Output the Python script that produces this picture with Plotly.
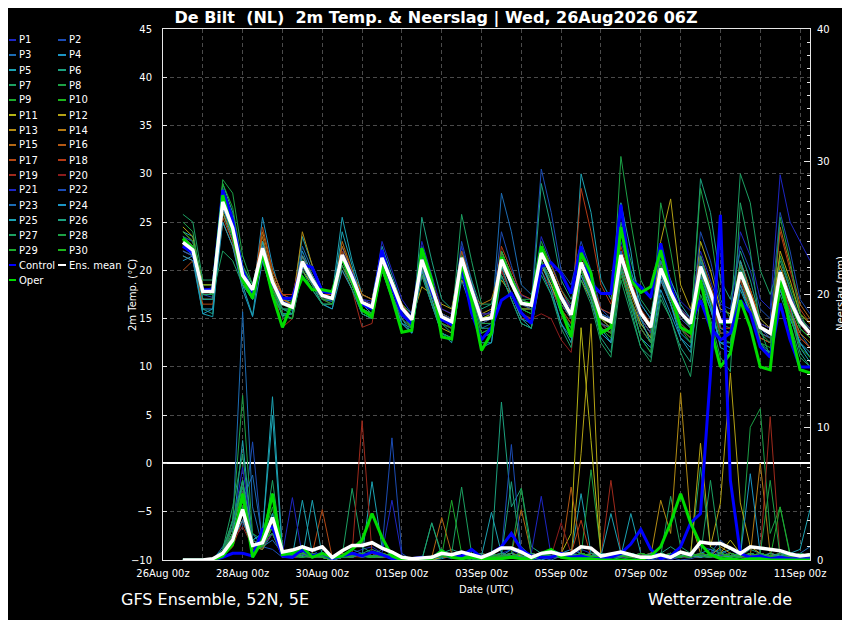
import pandas as pd
import plotly.graph_objects as go

# ── time axis: GFS ensemble 06Z run, 6-hourly steps ──────────────────────────
times = pd.date_range("2026-08-26 12:00", periods=64, freq="6h")
tick_dates = pd.date_range("2026-08-26", "2026-09-11", freq="2D")
tick_labels = ["26Aug 00z", "28Aug 00z", "30Aug 00z", "01Sep 00z", "03Sep 00z",
               "05Sep 00z", "07Sep 00z", "09Sep 00z", "11Sep 00z"]

# ── 2m temperature (°C) ──────────────────────────────────────────────────────
t_p1 = [23.5, 22.5, 18.0, 18.2, 28.0, 25.0, 19.8, 17.5, 23.0, 19.2, 16.8, 16.5, 21.5, 19.5, 17.8, 17.4,
        22.4, 19.8, 17.0, 16.8, 21.8, 19.0, 16.4, 15.3, 22.0, 18.6, 15.5, 15.0, 22.5, 18.8, 15.2, 15.8,
        22.0, 19.5, 17.4, 17.0, 23.5, 20.8, 18.0, 16.2, 22.0, 19.0, 16.0, 15.5, 23.0, 19.5, 16.5, 15.0,
        21.5, 18.8, 16.8, 15.8, 22.0, 19.0, 15.8, 15.5, 24.0, 21.5, 17.0, 16.0, 29.9, 25.0, 23.0, 21.0]
t_p2 = [22.0, 21.5, 17.5, 17.2, 27.5, 24.0, 19.0, 17.0, 22.0, 18.5, 16.0, 15.8, 21.0, 19.2, 17.0, 16.8,
        22.0, 19.5, 16.5, 16.0, 22.0, 19.0, 15.8, 14.5, 22.5, 19.0, 15.0, 14.5, 23.0, 19.0, 15.0, 15.2,
        24.0, 20.5, 17.0, 16.5, 30.5, 26.0, 20.0, 18.5, 23.0, 20.0, 16.0, 15.0, 22.0, 18.0, 15.0, 13.5,
        19.5, 17.0, 14.5, 13.5, 20.0, 17.5, 14.0, 13.5, 21.0, 18.0, 14.0, 13.0, 21.5, 18.0, 14.5, 13.0]
t_p3 = [22.5, 22.0, 17.0, 17.0, 26.5, 24.0, 19.5, 18.2, 22.5, 19.0, 16.5, 16.5, 20.5, 18.5, 17.0, 16.8,
        21.0, 19.0, 16.5, 16.0, 20.5, 18.0, 15.5, 14.2, 20.0, 17.5, 14.5, 14.0, 20.5, 17.5, 14.0, 14.5,
        28.0, 24.0, 18.5, 17.5, 22.0, 20.0, 17.0, 15.0, 20.0, 18.0, 14.5, 13.5, 21.0, 18.0, 14.5, 13.0,
        19.0, 16.5, 14.0, 13.0, 19.5, 17.0, 13.5, 13.5, 19.0, 16.0, 13.0, 12.5, 18.5, 16.0, 13.5, 12.0]
t_p4 = [21.0, 21.5, 16.0, 16.0, 26.0, 23.0, 18.5, 17.0, 25.5, 20.5, 17.0, 16.8, 22.0, 19.5, 17.5, 17.5,
        21.5, 19.0, 16.0, 15.5, 20.0, 17.5, 14.5, 14.0, 19.5, 16.5, 13.5, 13.0, 19.0, 16.0, 13.0, 13.5,
        20.0, 17.5, 15.5, 15.0, 20.5, 18.5, 15.5, 14.0, 19.5, 17.0, 13.5, 12.5, 20.0, 16.5, 13.0, 12.0,
        18.0, 15.5, 13.0, 12.0, 18.5, 16.0, 12.5, 12.5, 18.5, 15.5, 12.0, 11.5, 18.0, 15.0, 12.5, 11.0]
t_p5 = [24.0, 23.5, 18.5, 18.5, 29.0, 26.0, 20.5, 18.5, 23.0, 19.5, 17.0, 16.5, 23.5, 20.5, 18.0, 17.5,
        25.5, 21.0, 17.5, 17.0, 22.5, 19.5, 16.5, 15.5, 21.5, 18.5, 15.5, 15.0, 21.0, 17.5, 14.5, 14.5,
        20.0, 17.5, 15.0, 14.5, 21.0, 18.5, 15.5, 14.0, 30.0, 26.0, 19.0, 17.0, 24.0, 20.0, 16.5, 15.0,
        22.0, 19.0, 16.5, 15.0, 19.0, 16.0, 12.5, 12.0, 18.0, 15.5, 12.0, 11.0, 19.0, 16.0, 12.5, 11.5]
t_p6 = [23.0, 22.0, 16.0, 15.5, 28.5, 25.5, 20.0, 17.0, 22.0, 18.0, 15.2, 15.0, 20.0, 18.5, 16.5, 16.0,
        21.0, 18.5, 15.5, 15.0, 20.5, 17.5, 14.5, 13.5, 25.5, 21.0, 17.0, 16.0, 22.0, 19.0, 16.0, 16.5,
        21.5, 19.0, 16.5, 16.0, 22.5, 20.0, 17.5, 16.0, 20.5, 18.0, 15.0, 14.0, 20.5, 17.0, 14.0, 12.5,
        20.0, 17.0, 14.5, 13.5, 29.5, 26.0, 19.0, 17.0, 22.0, 19.0, 15.0, 14.0, 20.0, 17.0, 14.0, 13.0]
t_p7 = [25.8, 25.0, 19.0, 19.0, 27.0, 24.5, 19.5, 18.0, 21.5, 18.0, 16.0, 15.5, 20.5, 19.0, 17.0, 17.0,
        21.5, 19.5, 16.5, 16.0, 21.0, 18.5, 16.0, 14.5, 21.0, 18.0, 15.0, 14.5, 25.8, 21.0, 16.5, 16.5,
        21.0, 18.5, 16.0, 16.0, 21.5, 19.5, 17.0, 15.0, 21.0, 18.0, 15.0, 14.5, 25.0, 21.0, 17.0, 15.5,
        20.5, 18.0, 15.5, 14.0, 21.0, 18.0, 14.5, 14.5, 30.0, 27.0, 20.0, 17.5, 21.0, 18.0, 15.0, 14.0]
t_p8 = [22.5, 22.0, 17.5, 17.5, 29.4, 28.0, 21.5, 18.5, 21.0, 17.5, 15.5, 15.5, 21.0, 19.0, 17.0, 17.0,
        22.0, 19.5, 17.0, 16.5, 21.5, 19.0, 16.0, 15.0, 20.5, 17.5, 14.5, 14.0, 20.0, 17.0, 13.5, 14.0,
        22.0, 19.5, 17.0, 17.0, 23.0, 20.5, 18.0, 16.5, 20.0, 17.5, 14.5, 14.0, 31.8, 25.0, 19.0, 17.0,
        22.0, 18.5, 15.5, 14.0, 21.5, 18.0, 14.5, 14.0, 20.5, 17.5, 14.0, 13.5, 20.0, 17.0, 14.5, 13.5]
t_p9 = [23.0, 22.5, 18.0, 18.0, 26.0, 23.5, 19.0, 17.5, 22.5, 19.0, 16.5, 16.0, 20.5, 18.5, 17.0, 17.0,
        21.0, 19.0, 16.5, 16.0, 21.5, 19.0, 16.5, 15.5, 21.5, 18.5, 15.5, 15.0, 21.0, 18.0, 15.0, 15.0,
        21.5, 19.0, 17.0, 16.5, 22.0, 19.5, 17.0, 15.0, 21.5, 19.0, 15.5, 14.5, 22.0, 18.5, 15.5, 14.0,
        21.0, 18.5, 16.0, 15.0, 21.5, 18.5, 15.0, 15.0, 20.0, 17.5, 14.5, 14.0, 21.5, 18.5, 15.5, 14.5]
t_p10 = [23.5, 23.0, 18.5, 18.5, 27.5, 25.0, 20.0, 18.0, 22.0, 18.5, 16.5, 16.0, 21.0, 19.0, 17.5, 17.0,
         21.5, 19.0, 16.5, 16.0, 21.0, 18.5, 16.0, 15.0, 21.0, 18.0, 15.0, 14.5, 21.5, 18.0, 15.0, 15.5,
         21.0, 18.5, 16.5, 16.5, 21.5, 19.5, 17.0, 15.5, 20.5, 18.0, 15.0, 14.5, 21.5, 18.0, 15.5, 14.0,
         19.5, 17.0, 15.0, 14.0, 19.0, 16.5, 13.5, 13.5, 19.0, 16.5, 13.5, 13.0, 19.5, 16.5, 14.0, 13.0]
t_p11 = [23.0, 22.0, 17.5, 17.5, 26.5, 24.0, 19.0, 17.5, 21.5, 18.0, 16.5, 16.5, 20.0, 18.5, 17.0, 17.0,
         20.5, 18.5, 16.0, 15.5, 20.0, 18.0, 15.5, 14.5, 20.0, 17.0, 14.0, 13.5, 21.0, 18.0, 15.0, 15.5,
         22.0, 19.5, 17.0, 16.5, 20.5, 18.5, 16.0, 14.5, 19.0, 17.0, 14.0, 13.5, 20.0, 17.0, 14.5, 13.0,
         21.0, 18.0, 15.5, 14.5, 23.0, 20.0, 16.0, 15.5, 19.5, 17.0, 13.5, 13.0, 18.0, 15.5, 13.0, 12.0]
t_p12 = [24.5, 23.5, 18.5, 18.5, 27.5, 25.0, 20.0, 18.0, 23.0, 19.5, 17.0, 16.5, 21.5, 19.5, 17.5, 17.5,
         22.0, 19.5, 17.0, 16.5, 21.5, 19.0, 16.5, 15.0, 18.3, 17.5, 16.5, 16.0, 21.0, 18.5, 15.5, 16.0,
         19.0, 17.5, 16.0, 16.0, 21.0, 19.0, 16.5, 15.0, 20.5, 18.0, 15.0, 14.0, 20.5, 17.5, 15.0, 13.5,
         23.0, 27.4, 18.5, 16.0, 20.0, 17.5, 14.5, 14.5, 20.5, 18.0, 14.5, 14.0, 22.0, 19.0, 15.5, 14.5]
t_p13 = [24.0, 23.0, 18.0, 18.0, 26.0, 23.5, 19.5, 17.5, 22.5, 19.0, 17.0, 16.5, 24.0, 20.5, 18.0, 17.5,
         21.0, 19.0, 16.5, 16.0, 21.0, 18.5, 16.0, 15.0, 21.0, 18.0, 15.5, 15.0, 20.5, 17.5, 14.5, 15.0,
         21.0, 18.5, 16.5, 16.5, 22.0, 20.0, 17.5, 15.5, 20.0, 17.5, 14.5, 14.0, 22.0, 18.5, 15.5, 14.5,
         20.0, 17.5, 15.5, 14.5, 20.0, 17.5, 14.5, 14.5, 21.0, 18.0, 15.0, 14.0, 20.5, 17.5, 15.0, 14.0]
t_p14 = [23.5, 22.5, 17.0, 17.0, 25.0, 22.5, 18.5, 17.5, 24.0, 20.0, 17.5, 17.0, 21.0, 19.0, 17.5, 17.5,
         22.5, 20.0, 17.5, 17.0, 21.0, 18.5, 16.0, 15.0, 19.5, 17.5, 15.5, 15.0, 19.0, 17.5, 16.5, 17.0,
         20.5, 18.5, 16.5, 16.5, 21.5, 19.5, 17.0, 15.5, 21.0, 18.5, 15.5, 15.0, 21.0, 18.0, 15.5, 14.0,
         19.5, 17.0, 15.0, 14.0, 19.5, 17.0, 14.0, 14.0, 18.5, 16.0, 13.0, 12.5, 19.0, 16.0, 13.5, 12.5]
t_p15 = [22.5, 22.0, 17.5, 17.5, 27.0, 24.5, 19.5, 18.0, 23.5, 19.5, 17.0, 16.5, 20.5, 18.5, 17.0, 17.0,
         23.0, 20.0, 17.5, 17.0, 21.5, 19.0, 16.5, 15.0, 20.5, 18.0, 15.0, 14.5, 21.5, 18.5, 15.0, 15.0,
         20.5, 18.5, 16.5, 16.0, 21.0, 19.0, 16.5, 15.0, 20.0, 18.0, 15.0, 14.5, 21.0, 18.0, 15.0, 13.5,
         20.5, 18.0, 16.0, 15.0, 20.0, 17.5, 14.5, 14.5, 19.5, 17.0, 14.0, 13.5, 24.5, 20.5, 16.5, 15.0]
t_p16 = [21.5, 21.0, 17.0, 17.0, 26.5, 24.0, 19.0, 17.5, 22.0, 18.5, 16.5, 16.0, 21.0, 19.0, 17.5, 17.0,
         21.5, 19.0, 16.5, 16.0, 21.0, 18.5, 16.0, 15.0, 21.5, 18.5, 15.5, 15.0, 21.0, 18.0, 15.0, 15.0,
         21.0, 18.5, 16.5, 16.5, 21.5, 19.5, 17.0, 15.5, 20.5, 18.0, 15.0, 14.5, 21.5, 18.5, 15.5, 14.0,
         20.0, 17.5, 15.5, 14.5, 20.5, 18.0, 15.0, 15.0, 19.5, 17.0, 14.0, 13.5, 19.5, 16.5, 14.5, 13.5]
t_p17 = [20.0, 21.0, 16.5, 16.5, 25.5, 23.0, 19.0, 17.5, 24.5, 20.0, 17.5, 17.0, 21.5, 19.5, 17.5, 17.0,
         21.0, 19.5, 16.5, 16.0, 21.5, 19.0, 16.5, 15.0, 22.0, 19.0, 16.0, 15.5, 22.0, 18.5, 15.5, 15.5,
         21.5, 19.0, 17.0, 16.5, 22.5, 20.5, 18.0, 16.0, 21.5, 19.0, 16.0, 15.5, 20.0, 17.0, 14.0, 12.5,
         19.0, 16.5, 14.0, 13.0, 20.5, 18.0, 15.0, 15.0, 19.0, 16.5, 13.0, 12.5, 19.0, 16.0, 13.0, 12.0]
t_p18 = [23.0, 22.0, 17.5, 17.5, 27.0, 24.0, 19.5, 18.0, 22.0, 19.0, 17.5, 17.5, 21.5, 19.5, 17.5, 17.5,
         21.5, 19.0, 16.0, 15.5, 21.0, 18.5, 16.0, 14.5, 20.5, 17.5, 14.5, 14.0, 21.5, 18.0, 15.0, 15.0,
         22.5, 20.0, 17.5, 17.0, 21.0, 19.0, 16.5, 15.0, 28.5, 24.0, 18.5, 16.5, 22.5, 19.0, 16.0, 14.5,
         20.5, 18.0, 16.0, 15.0, 21.5, 18.5, 15.0, 15.0, 20.5, 18.0, 14.5, 14.0, 24.0, 20.0, 16.0, 14.5]
t_p19 = [22.0, 21.5, 17.5, 17.5, 26.5, 24.0, 19.0, 17.5, 22.0, 18.5, 14.1, 15.0, 20.5, 18.5, 17.0, 16.5,
         20.0, 18.0, 14.1, 14.5, 20.5, 17.5, 15.0, 14.0, 20.5, 17.5, 15.0, 14.0, 20.0, 17.0, 14.5, 14.5,
         20.0, 17.5, 15.0, 15.0, 20.0, 18.0, 16.0, 14.5, 21.0, 18.0, 14.5, 13.5, 20.0, 17.0, 14.0, 12.5,
         19.0, 17.0, 14.5, 13.5, 19.5, 17.0, 13.5, 13.5, 19.0, 16.5, 13.5, 13.0, 18.5, 16.0, 13.0, 12.0]
t_p20 = [22.5, 22.0, 18.0, 18.0, 27.0, 24.5, 19.5, 18.0, 22.5, 19.0, 16.5, 16.0, 21.0, 19.0, 17.0, 17.0,
         22.0, 19.5, 17.0, 16.5, 21.5, 19.0, 16.0, 15.0, 21.0, 18.0, 15.0, 14.5, 21.0, 18.0, 15.0, 15.0,
         20.0, 17.5, 15.5, 15.0, 15.5, 15.0, 12.8, 11.5, 19.5, 17.0, 13.5, 12.5, 21.0, 18.0, 15.0, 13.5,
         20.0, 17.5, 15.0, 14.0, 20.5, 17.5, 14.0, 14.0, 19.5, 17.0, 13.5, 13.0, 20.0, 17.0, 14.5, 13.0]
t_p21 = [23.5, 23.0, 18.0, 18.0, 28.5, 25.5, 20.0, 18.0, 22.5, 19.0, 16.5, 16.5, 21.0, 19.0, 17.5, 17.0,
         21.5, 19.5, 17.0, 16.5, 23.0, 20.0, 17.0, 15.5, 23.0, 19.5, 16.0, 15.5, 21.5, 18.5, 15.5, 15.5,
         21.5, 19.0, 17.0, 16.5, 22.0, 20.0, 17.5, 16.0, 21.0, 18.5, 15.5, 15.0, 22.0, 18.5, 15.5, 14.0,
         20.5, 18.0, 16.0, 15.0, 20.5, 18.0, 15.0, 15.0, 20.0, 17.5, 14.5, 14.0, 20.0, 17.5, 15.0, 14.0]
t_p22 = [22.5, 22.0, 17.5, 17.5, 27.0, 24.5, 19.5, 18.0, 22.5, 19.0, 16.5, 16.0, 20.5, 18.5, 17.0, 17.0,
         21.5, 19.0, 16.5, 16.0, 21.0, 18.5, 16.0, 14.5, 21.5, 18.5, 15.5, 15.0, 21.0, 18.0, 14.5, 15.0,
         21.0, 18.5, 16.5, 16.0, 21.0, 19.0, 16.5, 15.0, 20.0, 17.5, 14.5, 14.0, 21.0, 18.0, 15.0, 13.5,
         19.5, 17.0, 15.0, 14.0, 24.0, 21.0, 16.5, 16.0, 22.5, 20.0, 16.0, 15.0, 26.0, 22.0, 17.0, 15.5]
t_p23 = [22.0, 21.5, 17.0, 17.0, 26.5, 23.5, 19.0, 17.5, 22.0, 18.5, 16.0, 16.0, 22.5, 20.0, 18.0, 17.5,
         21.0, 19.0, 16.5, 16.0, 21.0, 18.5, 15.5, 14.5, 21.0, 18.0, 15.0, 14.5, 21.5, 18.0, 15.0, 15.0,
         21.0, 18.5, 16.5, 16.5, 22.0, 20.0, 17.5, 15.5, 21.0, 18.5, 15.5, 15.0, 22.0, 18.5, 15.5, 14.0,
         21.0, 18.0, 15.5, 14.5, 21.0, 18.0, 14.5, 14.5, 20.0, 17.0, 13.5, 13.0, 20.0, 17.0, 14.0, 13.0]
t_p24 = [21.5, 21.0, 15.5, 16.0, 25.0, 22.5, 18.0, 15.2, 21.0, 17.5, 15.5, 15.5, 19.5, 18.0, 16.5, 16.0,
         20.0, 18.0, 15.5, 15.0, 20.0, 17.0, 14.5, 13.5, 20.0, 16.5, 13.5, 13.0, 20.0, 16.5, 12.0, 12.5,
         19.5, 17.0, 14.5, 14.0, 20.0, 17.5, 14.5, 13.0, 19.5, 17.0, 13.5, 12.5, 20.5, 17.0, 13.0, 11.5,
         19.0, 16.5, 13.5, 12.5, 19.5, 16.5, 12.5, 12.0, 18.5, 15.5, 12.0, 11.5, 18.0, 15.0, 12.5, 11.0]
t_p25 = [22.5, 21.5, 15.5, 15.2, 26.5, 24.0, 18.5, 15.3, 23.0, 19.0, 15.3, 15.5, 21.5, 19.5, 17.5, 17.0,
         24.0, 20.5, 16.5, 15.5, 21.5, 18.5, 15.0, 13.5, 20.5, 17.0, 13.5, 12.5, 19.5, 16.5, 12.5, 12.5,
         20.5, 17.5, 15.0, 14.0, 21.0, 18.0, 14.5, 12.5, 22.0, 18.5, 14.0, 12.5, 27.0, 22.0, 15.0, 12.5,
         19.5, 16.5, 13.0, 11.5, 20.0, 16.5, 12.0, 11.5, 21.0, 17.5, 12.5, 11.5, 20.0, 16.5, 12.0, 10.5]
t_p26 = [23.0, 22.0, 17.0, 17.0, 27.0, 24.0, 19.0, 17.5, 21.5, 18.0, 16.0, 15.5, 20.5, 18.5, 16.5, 16.5,
         21.0, 18.5, 16.0, 15.5, 20.5, 18.0, 15.5, 14.0, 20.5, 17.5, 14.5, 13.5, 21.0, 17.5, 14.0, 14.0,
         21.0, 18.5, 16.0, 15.5, 29.0, 24.5, 19.0, 17.0, 20.0, 17.0, 13.0, 11.5, 20.0, 16.0, 12.0, 11.0,
         17.5, 15.0, 12.0, 10.5, 21.5, 18.0, 14.0, 13.5, 20.0, 17.0, 12.5, 11.0, 19.0, 15.5, 11.5, 10.0]
t_p27 = [23.5, 22.5, 17.5, 17.5, 22.0, 21.0, 18.5, 17.0, 21.5, 17.5, 15.5, 15.0, 20.0, 18.0, 16.5, 16.5,
         20.5, 18.0, 15.5, 15.0, 20.0, 17.5, 15.0, 14.0, 19.5, 16.5, 13.5, 13.0, 20.0, 16.5, 13.0, 13.5,
         19.5, 17.0, 14.5, 14.0, 19.5, 17.5, 14.0, 12.0, 19.0, 16.5, 12.5, 11.0, 19.0, 15.5, 12.0, 10.5,
         17.0, 15.0, 11.5, 9.0, 17.5, 15.0, 11.0, 9.5, 27.0, 22.0, 14.0, 11.0, 17.5, 14.5, 11.0, 10.0]
t_p28 = [25.0, 24.0, 18.0, 18.0, 28.0, 25.5, 20.5, 18.5, 22.0, 18.5, 16.0, 16.0, 21.0, 19.0, 17.0, 17.0,
         21.0, 19.0, 16.5, 16.0, 21.0, 18.5, 15.5, 14.5, 21.0, 18.0, 15.0, 14.5, 21.0, 17.5, 14.5, 14.5,
         22.0, 19.5, 17.0, 16.5, 22.5, 20.0, 17.0, 15.0, 20.0, 17.5, 14.0, 13.5, 20.5, 17.0, 14.0, 12.5,
         27.0, 22.0, 16.0, 14.0, 28.5, 24.0, 17.0, 15.0, 20.5, 17.5, 13.5, 12.5, 25.5, 21.0, 15.5, 13.5]
t_p29 = [24.0, 23.0, 18.0, 17.5, 29.0, 26.5, 20.5, 18.0, 21.5, 18.0, 15.5, 15.0, 20.5, 19.0, 17.0, 16.5,
         21.5, 19.0, 16.0, 15.5, 20.5, 18.0, 15.5, 14.0, 20.5, 17.5, 14.5, 14.0, 20.5, 17.0, 13.5, 14.0,
         21.0, 18.5, 16.0, 15.5, 21.0, 19.0, 16.0, 14.0, 20.0, 17.5, 14.0, 13.0, 19.5, 16.5, 13.0, 11.5,
         20.0, 17.0, 14.0, 12.5, 20.0, 17.0, 13.0, 12.5, 19.5, 16.5, 12.5, 12.0, 18.5, 15.5, 12.0, 11.0]
t_p30 = [23.0, 22.5, 18.0, 18.0, 27.0, 24.0, 19.5, 18.0, 22.0, 18.5, 16.5, 16.0, 21.0, 19.0, 17.5, 17.0,
         21.5, 19.0, 16.5, 16.0, 21.5, 19.0, 16.0, 15.0, 21.5, 18.5, 15.0, 14.5, 21.5, 18.0, 15.0, 15.0,
         21.0, 18.5, 16.5, 16.5, 21.5, 19.5, 17.0, 15.5, 21.0, 18.5, 15.0, 14.5, 21.5, 18.0, 15.5, 14.0,
         20.5, 18.0, 15.5, 14.5, 20.0, 17.5, 14.5, 14.5, 19.5, 17.0, 14.0, 13.5, 19.5, 16.5, 14.0, 13.0]
t_control = [22.5, 21.8, 18.0, 18.0, 28.3, 25.2, 20.0, 17.7, 22.1, 18.6, 17.1, 17.1, 20.6, 20.3, 17.8, 17.7,
             21.4, 19.5, 16.5, 16.0, 22.1, 18.3, 15.4, 14.5, 21.1, 17.8, 14.9, 14.4, 20.4, 15.6, 12.8, 14.1,
             16.9, 17.6, 15.6, 14.5, 20.4, 20.8, 19.7, 17.6, 22.5, 18.7, 17.6, 17.6, 26.8, 19.0, 18.3, 17.2,
             22.8, 18.3, 15.6, 14.5, 16.9, 14.1, 12.8, 13.5, 16.9, 15.6, 12.1, 11.0, 16.6, 12.8, 10.0, 10.0]
t_oper = [23.3, 22.2, 17.8, 17.8, 27.8, 23.9, 19.0, 17.1, 21.8, 17.4, 14.1, 16.7, 19.3, 18.0, 18.0, 17.8,
          21.3, 19.0, 15.9, 15.2, 20.4, 17.2, 13.6, 13.8, 22.3, 19.0, 13.1, 12.9, 20.8, 16.9, 11.7, 13.5,
          21.4, 19.0, 16.6, 16.6, 22.5, 19.7, 15.9, 13.1, 21.8, 19.7, 13.5, 14.1, 24.5, 19.0, 17.7, 18.3,
          22.1, 17.7, 14.1, 13.5, 19.0, 14.1, 10.0, 11.4, 16.9, 14.1, 10.0, 9.7, 19.3, 14.1, 9.7, 9.4]
t_mean = [22.9, 22.1, 17.8, 17.8, 27.1, 24.4, 19.5, 18.0, 22.3, 18.8, 16.6, 16.2, 20.9, 19.0, 17.4, 17.1,
          21.6, 19.3, 16.7, 16.2, 21.3, 18.7, 16.1, 14.9, 21.1, 18.2, 15.2, 14.7, 21.3, 18.0, 14.9, 15.1,
          21.1, 18.7, 16.6, 16.4, 21.8, 19.7, 17.2, 15.4, 20.8, 18.3, 15.2, 14.7, 21.6, 18.3, 15.6, 14.1,
          20.2, 17.7, 15.6, 14.5, 20.4, 17.7, 14.7, 14.7, 19.8, 17.2, 14.1, 13.5, 19.8, 16.9, 14.7, 13.5]

# ── precipitation (mm / 6h) ──────────────────────────────────────────────────
r_p1 = [0, 0, 0, 0, 0.5, 2.0, 3.5, 1.0, 1.5, 2.0, 0.3, 0.2, 0.8, 0.3, 0.5, 0,
        0.2, 0.5, 0.8, 1.0, 0.5, 0.2, 0, 0, 0, 0.2, 0.5, 0.3, 0.2, 0, 0, 0.3,
        0.5, 0.8, 0.3, 0, 0.2, 0.5, 0.3, 0.2, 0.8, 0.5, 0, 0.2, 0.3, 0.2, 0, 0,
        0.2, 0, 0.3, 0.5, 1.0, 0.8, 0.2, 0, 0, 0.5, 0.3, 0.2, 0.1, 0, 0, 0]
r_p2 = [0, 0, 0, 0, 0.3, 1.5, 2.5, 8.9, 1.0, 0.8, 0.2, 0.5, 0.3, 0.2, 0.5, 0.1,
        0.3, 0.2, 0.5, 0.3, 0.8, 9.2, 0.5, 0, 0, 0, 0.2, 0.5, 0.3, 0.1, 0, 0.2,
        0.3, 0.5, 0.2, 0, 0, 0.2, 0.5, 0.3, 0.2, 0, 0.2, 0.5, 0.2, 0, 0, 0.3,
        0.5, 0.2, 0, 0.1, 0.3, 0.5, 1.5, 0.8, 0.3, 0.2, 0, 0, 0.1, 0.2, 0, 0]
r_p3 = [0, 0, 0, 0, 1.0, 2.5, 18.7, 4.0, 1.0, 1.5, 0.5, 0.3, 0.5, 0.8, 0.2, 0,
        0.3, 0.8, 0.5, 0.3, 0.2, 0.3, 0.1, 0, 0, 0.2, 0.3, 0.1, 0.5, 0.3, 0.2, 0,
        0.2, 0.5, 1.0, 0.3, 0.2, 0, 0.3, 0.5, 0.2, 0.3, 0.5, 0.2, 0.3, 0.5, 0.2, 0,
        0, 0.2, 0.5, 0.3, 0.2, 0.5, 0.8, 0.3, 0.5, 0.2, 0.3, 0.5, 0.2, 0.3, 0.5, 1.0]
r_p4 = [0, 0, 0, 0, 0.5, 3.0, 5.5, 2.0, 1.0, 3.0, 0.5, 0.2, 0.3, 0.2, 0.5, 0.2,
        0.5, 0.3, 0.3, 0.5, 0.3, 0.2, 0, 0, 0, 0, 0.1, 0.3, 0.5, 0.2, 0, 0,
        0.3, 0.8, 0.5, 0.2, 0, 0.3, 0.5, 0.8, 0.5, 0.3, 0.2, 0, 0.2, 0.3, 0.2, 0.1,
        0.3, 0.2, 0.5, 0.3, 0.5, 0.8, 0.5, 0.3, 0.2, 0.5, 0.3, 0.2, 0, 0.2, 0.3, 0.2]
r_p5 = [0, 0, 0, 0, 0.3, 2.0, 9.0, 1.5, 2.0, 12.3, 0.8, 0.3, 4.5, 0.5, 0.3, 0.2,
        0.2, 0.5, 0.3, 5.9, 1.0, 0.3, 0.1, 0, 0, 0, 0.2, 0.3, 0.2, 0.5, 0.3, 0.2,
        0.2, 0.3, 0.5, 0.2, 0.3, 0.8, 0.5, 0.3, 5.0, 0.5, 0.5, 0.2, 0.3, 3.5, 0.5, 0.2,
        0.5, 0.3, 0.2, 0.5, 0.3, 0.2, 0.5, 0.8, 0.5, 0.3, 0.5, 0.2, 0.3, 0.5, 0.8, 3.8]
r_p6 = [0, 0, 0, 0, 0.5, 1.5, 4.0, 1.0, 0.8, 2.0, 0.2, 0.2, 0.5, 0.2, 0.3, 0,
        0.2, 0.3, 0.5, 0.8, 0.5, 0.2, 0, 0, 0, 0.3, 0.5, 0.8, 0.5, 0.3, 0.2, 0.5,
        11.9, 4.0, 5.4, 1.0, 0.5, 0.3, 0.2, 0.5, 0.3, 0.2, 0.5, 0.3, 0.2, 0.5, 0.3, 0.2,
        0.5, 1.0, 0.5, 0.3, 0.5, 0.3, 0.2, 0.5, 0.3, 0.8, 0.5, 0.3, 0.2, 0.5, 0.3, 0.2]
r_p7 = [0, 0, 0, 0, 0.8, 4.0, 8.0, 1.5, 1.0, 6.0, 0.5, 0.3, 0.5, 0.3, 0.5, 0.2,
        0.3, 5.4, 1.0, 0.5, 0.3, 0.2, 0.3, 0, 0, 0, 0.2, 0.5, 5.5, 0.5, 0.2, 0.3,
        0.5, 0.3, 0.2, 0.3, 0.5, 0.3, 0.2, 0.5, 0.3, 0.2, 0.5, 0.3, 0.2, 0.5, 0.3, 0.5,
        0.3, 4.8, 1.0, 0.5, 7.0, 1.0, 0.5, 0.3, 0.5, 0.3, 0.2, 0.5, 0.3, 0.2, 0.5, 0.3]
r_p8 = [0, 0, 0, 0, 0.5, 3.0, 12.4, 2.0, 1.5, 3.5, 0.3, 0.5, 0.3, 0.5, 0.2, 0,
        0.2, 0.3, 0.5, 0.3, 0.2, 0.5, 0, 0, 0, 2.8, 0.5, 0.3, 0.2, 0, 0.2, 0.3,
        0.3, 0.5, 0.3, 0.2, 0.5, 0.3, 0.2, 0.5, 0.3, 6.8, 0.5, 0.3, 0.5, 0.3, 0.2, 0.5,
        0.3, 0.2, 0.5, 0.3, 0.5, 0.3, 0.2, 0.5, 0.3, 10.0, 11.4, 2.0, 4.0, 0.5, 0.3, 0.2]
r_p9 = [0, 0, 0, 0, 0.3, 2.5, 6.0, 1.0, 1.5, 4.0, 0.3, 0.2, 0.5, 0.3, 0.2, 0,
        0.3, 0.5, 0.3, 0.5, 0.3, 0.2, 0, 0, 0, 0.2, 0.3, 4.5, 0.5, 0.3, 0.2, 0.1,
        0.2, 0.3, 0.5, 0.2, 0.3, 0.5, 0.3, 0.2, 0.5, 0.3, 0.2, 0.5, 0.3, 0.2, 0.5, 0.3,
        0.2, 0.5, 0.3, 0.2, 0.5, 0.3, 0.2, 0.5, 0.3, 0.2, 0.5, 0.3, 0.2, 0.5, 0.3, 0.2]
r_p10 = [0, 0, 0, 0, 0.5, 2.0, 4.5, 1.0, 2.0, 5.0, 0.5, 0.3, 0.2, 0.5, 0.3, 0,
         0.2, 0.5, 0.3, 0.2, 0.5, 0.3, 0, 0, 0, 0.3, 0.2, 0.3, 0.5, 0.2, 0.3, 0.2,
         0.3, 0.5, 0.2, 0.3, 0.2, 0.5, 0.3, 0.2, 0.3, 0.5, 0.2, 0.3, 0.2, 0.3, 0.5, 0.2,
         0.3, 0.2, 0.5, 0.3, 0.2, 0.5, 0.3, 0.2, 0.5, 0.3, 0.2, 0.3, 0.5, 0.2, 0.3, 0.2]
r_p11 = [0, 0, 0, 0, 0.3, 1.5, 3.0, 0.8, 1.0, 2.0, 0.3, 0.2, 0.3, 0.2, 0.5, 0.2,
         0.3, 0.2, 0.5, 0.3, 0.2, 0.3, 0, 0, 0, 0.2, 0.3, 0.2, 0.5, 0.3, 0.2, 0.3,
         0.5, 0.3, 0.2, 0.5, 0.3, 0.2, 0.5, 2.0, 17.5, 9.0, 0.3, 0.5, 0.3, 0.2, 0.5, 0.3,
         0.2, 0.5, 0.3, 0.2, 0.5, 0.3, 0.5, 1.5, 0.5, 0.3, 0.5, 0.3, 0.2, 0.5, 0.3, 0.2]
r_p12 = [0, 0, 0, 0, 0.5, 2.0, 3.5, 1.0, 1.5, 2.5, 0.5, 0.3, 0.5, 0.3, 0.2, 0.1,
         0.2, 0.3, 0.5, 0.2, 0.3, 0.2, 0, 0, 0, 0, 0.2, 0.3, 0.2, 0.5, 0.3, 0.2,
         0.3, 0.5, 0.3, 0.2, 0.5, 0.3, 0.2, 0.3, 8.0, 17.8, 0.3, 0.5, 0.3, 0.2, 0.5, 0.3,
         0.5, 0.3, 0.5, 0.3, 8.8, 1.0, 4.3, 14.1, 4.3, 1.0, 0.5, 0.3, 0.2, 0.5, 0.3, 0.2]
r_p13 = [0, 0, 0, 0, 0.3, 1.0, 5.0, 1.5, 1.0, 3.0, 0.2, 0.5, 0.3, 0.5, 0.3, 0.2,
         0.3, 0.2, 0.5, 0.3, 0.2, 0.5, 0, 0, 0, 0.2, 0.3, 0.5, 0.3, 0.2, 0.5, 0.3,
         0.2, 0.3, 0.5, 0.3, 0.2, 0.5, 0.3, 0.2, 0.5, 0.3, 0.2, 0.5, 0.3, 0.2, 0.5, 0.3,
         4.5, 2.0, 12.6, 3.0, 0.5, 0.3, 1.0, 0.5, 0.3, 0.5, 0.2, 0.3, 0.5, 0.2, 0.3, 0.5]
r_p14 = [0, 0, 0, 0, 0.2, 1.5, 4.0, 1.0, 0.8, 2.5, 0.3, 0.2, 0.5, 0.3, 0.2, 0,
         0.2, 0.5, 0.3, 0.2, 0.5, 0.3, 0, 0, 0, 0.3, 0.2, 0.3, 0.5, 0.2, 0.3, 0.2,
         0.5, 0.3, 0.2, 0.5, 0.3, 0.5, 0.3, 0.2, 0.5, 0.3, 0.2, 0.3, 0.5, 0.2, 0.3, 0.5,
         0.3, 0.5, 0.3, 0.2, 0.5, 0.3, 0.2, 0.5, 0.2, 0.3, 7.3, 0.5, 0.3, 0.5, 0.2, 0.3]
r_p15 = [0, 0, 0, 0, 0.5, 2.5, 5.0, 1.0, 1.5, 3.0, 0.3, 0.5, 0.2, 0.5, 0.3, 0.2,
         0.5, 0.3, 0.2, 0.5, 0.3, 0.2, 0, 0, 0, 0.2, 3.2, 0.5, 0.3, 0.2, 0.3, 0.2,
         0.3, 0.5, 3.8, 0.5, 0.3, 0.2, 0.5, 0.3, 0.2, 0.5, 0.3, 0.2, 0.5, 0.3, 0.2, 0.3,
         0.5, 0.3, 0.2, 0.5, 0.3, 0.2, 0.5, 0.3, 0.2, 0.5, 0.3, 0.2, 0.5, 0.3, 0.2, 0.5]
r_p16 = [0, 0, 0, 0, 0.3, 1.5, 3.5, 1.5, 1.0, 2.0, 0.5, 0.3, 0.5, 0.2, 0.3, 0.1,
         0.2, 0.3, 0.5, 0.3, 0.2, 0.3, 0, 0, 0, 0.3, 0.2, 0.5, 0.3, 0.2, 0.3, 0.5,
         0.2, 0.3, 0.5, 0.2, 0.3, 0.5, 0.3, 5.5, 0.5, 0.2, 0.3, 0.5, 0.2, 0.3, 0.5, 0.2,
         0.3, 0.5, 0.2, 0.3, 0.5, 0.2, 0.3, 0.5, 0.2, 0.3, 0.5, 0.2, 0.3, 0.5, 0.2, 0.3]
r_p17 = [0, 0, 0, 0, 0.5, 2.0, 4.0, 1.0, 1.5, 2.5, 0.3, 0.2, 0.3, 0.5, 3.8, 0.2,
         0.3, 0.2, 0.5, 0.3, 0.2, 0.5, 0, 0, 0, 0.2, 0.3, 0.2, 0.5, 0.3, 0.2, 0.3,
         0.5, 0.3, 0.2, 0.5, 0.3, 0.2, 0.5, 0.3, 0.2, 0.5, 0.3, 0.2, 0.5, 0.3, 0.2, 0.5,
         0.3, 0.2, 0.5, 0.3, 0.2, 0.5, 0.3, 0.2, 0.5, 0.3, 0.2, 0.5, 0.3, 0.2, 0.5, 0.3]
r_p18 = [0, 0, 0, 0, 0.3, 1.0, 3.0, 1.0, 1.0, 2.0, 0.2, 0.3, 0.5, 0.2, 0.3, 0,
         0.2, 0.3, 0.5, 0.2, 0.3, 0.2, 0, 0, 0, 0.3, 0.2, 0.3, 0.5, 0.2, 0.3, 0.2,
         0.3, 0.5, 0.2, 0.3, 0.5, 0.2, 0.3, 0.5, 3.0, 0.2, 0.3, 0.5, 0.2, 0.3, 0.5, 0.2,
         0.3, 0.5, 0.2, 0.3, 0.5, 0.2, 0.3, 0.5, 0.2, 0.3, 0.5, 0.2, 0.3, 0.5, 0.2, 0.3]
r_p19 = [0, 0, 0, 0, 0.5, 1.5, 3.0, 1.0, 1.0, 2.0, 0.3, 0.2, 0.5, 0.3, 0.2, 0.1,
         0.3, 0.5, 10.5, 0.5, 0.3, 0.2, 0, 0, 0, 0.2, 0.3, 0.5, 0.3, 0.2, 0.3, 0.5,
         0.3, 0.2, 0.5, 0.3, 0.2, 0.5, 0.3, 0.2, 0.5, 0.3, 0.2, 6.0, 0.5, 0.3, 0.2, 0.5,
         0.3, 0.2, 0.5, 0.3, 0.2, 0.5, 0.3, 0.2, 0.5, 0.3, 0.5, 10.8, 0.2, 0.5, 0.3, 0.2]
r_p20 = [0, 0, 0, 0, 0.3, 1.5, 2.5, 1.0, 1.0, 2.0, 0.3, 0.2, 0.3, 0.2, 0.5, 0.2,
         0.3, 0.2, 0.3, 0.5, 0.2, 0.3, 0, 0, 0, 0.2, 0.5, 0.3, 0.2, 0.3, 0.5, 0.2,
         0.3, 0.2, 0.5, 0.3, 0.2, 0.3, 2.8, 0.5, 0.3, 0.2, 0.5, 0.3, 0.2, 0.3, 0.5, 0.2,
         0.3, 0.5, 0.2, 0.3, 0.5, 0.2, 0.3, 0.5, 0.2, 0.3, 0.5, 0.2, 0.3, 0.5, 0.2, 0.3]
r_p21 = [0, 0, 0, 0, 0.5, 2.5, 7.0, 1.5, 1.0, 2.0, 0.5, 4.7, 0.3, 0.5, 0.2, 0.1,
         0.3, 0.2, 0.5, 0.3, 0.5, 4.5, 0.3, 0, 0, 0.2, 0.3, 0.5, 0.2, 0.3, 0.2, 0.3,
         0.5, 0.3, 0.2, 0.5, 4.8, 0.3, 0.2, 0.5, 0.3, 0.2, 0.5, 0.3, 0.2, 0.3, 0.5, 0.2,
         0.3, 0.5, 0.2, 0.3, 0.5, 0.2, 0.3, 0.5, 0.2, 0.3, 0.5, 0.2, 0.3, 0.5, 0.2, 0.3]
r_p22 = [0, 0, 0, 0, 0.3, 1.5, 3.5, 1.0, 1.0, 2.5, 0.3, 0.2, 0.5, 0.3, 0.2, 0,
         0.2, 0.3, 0.5, 0.2, 0.3, 0.2, 0, 0, 0, 0.2, 0.3, 0.2, 0.5, 0.3, 0.2, 0.3,
         0.5, 8.7, 0.5, 0.3, 0.2, 0.5, 0.3, 0.2, 0.5, 0.3, 0.2, 0.5, 0.3, 0.2, 0.5, 0.3,
         0.2, 0.5, 0.3, 0.2, 0.5, 0.3, 0.2, 0.5, 0.3, 0.2, 0.5, 0.3, 0.2, 0.5, 0.3, 0.2]
r_p23 = [0, 0, 0, 0, 0.5, 2.0, 4.5, 6.4, 1.5, 2.0, 0.3, 0.5, 0.2, 0.3, 0.5, 0.2,
         0.3, 0.5, 0.2, 0.3, 0.5, 0.2, 0, 0, 0, 0.3, 0.2, 0.5, 0.3, 0.2, 0.3, 0.5,
         0.3, 0.2, 0.5, 0.3, 0.2, 0.5, 0.3, 0.2, 0.5, 0.3, 0.2, 0.5, 0.3, 0.2, 0.5, 0.3,
         0.5, 0.3, 0.2, 0.5, 0.3, 0.2, 0.5, 0.3, 0.2, 0.5, 0.3, 0.2, 0.5, 0.3, 0.2, 0.5]
r_p24 = [0, 0, 0, 0, 0.3, 1.5, 3.0, 1.0, 1.0, 3.5, 0.5, 0.3, 0.5, 0.2, 0.3, 0.2,
         0.2, 0.5, 0.3, 0.2, 0.3, 0.5, 0, 0, 0, 0.2, 0.5, 0.3, 0.2, 0.5, 0.3, 0.2,
         0.3, 0.5, 0.2, 0.3, 0.5, 0.2, 0.3, 0.5, 0.2, 0.3, 0.5, 0.2, 0.3, 0.5, 0.2, 0.3,
         0.5, 0.2, 0.3, 0.5, 0.2, 0.3, 0.5, 0.2, 0.3, 6.5, 0.5, 0.2, 0.3, 0.5, 0.2, 0.3]
r_p25 = [0, 0, 0, 0, 0.5, 2.0, 6.0, 1.5, 2.0, 10.9, 0.5, 0.3, 0.2, 4.5, 0.3, 0.2,
         0.3, 0.2, 0.5, 0.3, 0.2, 0.5, 0, 0, 0, 0.3, 0.2, 0.5, 0.3, 0.2, 0.3, 3.6,
         0.5, 0.3, 0.2, 0.5, 0.3, 0.2, 0.5, 0.3, 0.2, 0.5, 0.3, 3.5, 0.5, 0.3, 0.2, 0.5,
         0.3, 0.2, 0.5, 0.3, 0.2, 0.5, 0.3, 0.2, 0.5, 0.3, 0.2, 0.5, 0.3, 0.2, 0.5, 0.3]
r_p26 = [0, 0, 0, 0, 0.5, 1.5, 4.0, 1.0, 1.5, 3.0, 0.3, 0.5, 0.3, 0.2, 0.5, 0.2,
         0.3, 0.5, 0.3, 0.2, 0.5, 0.3, 0, 0, 0, 2.8, 0.3, 0.5, 0.2, 0.3, 0.5, 0.2,
         0.3, 5.9, 0.3, 0.2, 0.5, 0.3, 0.2, 0.5, 0.3, 0.2, 0.5, 0.3, 0.2, 0.5, 0.3, 0.2,
         0.5, 0.3, 0.2, 0.5, 0.3, 0.2, 0.5, 0.3, 0.2, 0.5, 0.3, 0.2, 0.5, 0.3, 0.2, 0.5]
r_p27 = [0, 0, 0, 0, 0.8, 3.0, 6.0, 1.0, 1.0, 2.5, 0.3, 0.2, 0.5, 0.3, 0.2, 0,
         0.2, 0.3, 0.5, 0.2, 0.3, 0.2, 0, 0, 0, 0.2, 0.3, 0.2, 0.5, 0.3, 0.2, 0.3,
         0.5, 0.3, 0.2, 0.5, 0.3, 0.2, 0.5, 0.3, 0.2, 0.5, 0.3, 0.2, 0.5, 0.3, 0.2, 0.3,
         0.5, 0.3, 0.2, 0.5, 0.3, 6.0, 0.5, 0.3, 0.2, 0.5, 0.3, 0.2, 0.5, 0.3, 0.2, 0.5]
r_p28 = [0, 0, 0, 0, 0.5, 2.5, 5.5, 1.5, 1.0, 3.0, 0.5, 0.3, 0.2, 0.5, 0.3, 0.1,
         0.3, 0.2, 0.5, 0.3, 0.2, 0.5, 0, 0, 0, 0.3, 0.2, 0.5, 0.3, 0.2, 0.3, 0.2,
         0.3, 0.5, 5.4, 0.3, 0.2, 0.5, 0.3, 0.2, 0.5, 0.3, 0.2, 0.5, 0.3, 0.2, 0.5, 0.3,
         0.2, 0.5, 0.3, 0.2, 0.5, 0.3, 0.2, 0.5, 0.3, 0.2, 0.5, 6.0, 0.3, 0.2, 0.5, 0.3]
r_p29 = [0, 0, 0, 0, 0.5, 2.0, 4.5, 1.0, 1.5, 2.0, 0.3, 0.5, 0.2, 0.3, 0.5, 0.2,
         0.2, 0.3, 0.5, 0.2, 0.3, 0.5, 0, 0, 0, 0.2, 0.3, 0.5, 0.2, 0.3, 0.2, 0.5,
         0.3, 0.2, 0.5, 0.3, 0.2, 0.5, 0.3, 0.2, 0.5, 0.3, 0.2, 0.5, 0.3, 0.2, 0.5, 0.3,
         0.5, 0.3, 0.2, 0.5, 0.3, 0.2, 0.5, 0.3, 0.2, 0.5, 0.3, 0.2, 4.0, 0.3, 0.2, 0.5]
r_p30 = [0, 0, 0, 0, 0.3, 1.5, 3.5, 1.0, 1.0, 2.5, 0.3, 0.2, 0.5, 0.3, 0.2, 0,
         0.3, 0.5, 0.3, 0.2, 0.5, 0.3, 0, 0, 0, 0.2, 0.3, 0.2, 0.5, 0.3, 0.2, 0.3,
         0.2, 0.3, 0.5, 0.2, 0.3, 0.5, 0.3, 0.2, 0.5, 0.3, 0.2, 0.5, 0.3, 0.2, 0.5, 0.3,
         0.2, 0.5, 0.3, 0.2, 0.5, 0.3, 0.2, 0.5, 0.3, 0.2, 0.5, 0.3, 0.2, 0.5, 0.3, 0.2]
r_control = [0, 0, 0, 0, 0.2, 0.5, 0.5, 0.3, 2.3, 2.5, 0.3, 0.2, 0.8, 0.3, 0.5, 0.1,
             0.3, 0.5, 0.3, 0.6, 0.4, 0.1, 0, 0.1, 0.2, 0.1, 0.7, 0.2, 0.3, 0.8, 0.2, 0.5,
             1.0, 2.0, 0.8, 0.3, 0.2, 0.2, 0.5, 0.2, 0.3, 0.1, 0.1, 0.2, 0.5, 1.2, 2.3, 0.8,
             0.1, 0.3, 1.0, 2.8, 3.5, 14.0, 26.0, 6.0, 0.5, 0.2, 0.3, 0.1, 0.2, 0.1, 0.1, 0.1]
r_oper = [0, 0, 0, 0, 0.3, 1.2, 5.0, 0.2, 1.5, 5.0, 0.4, 0.5, 1.0, 0.2, 0.5, 0.2,
          0.3, 0.8, 1.5, 3.5, 1.7, 0.3, 0, 0, 0.1, 0.1, 0.7, 0.2, 0.1, 0.2, 0.1, 0.1,
          0.1, 0.2, 0.1, 0.1, 0.5, 0.8, 0.2, 0.1, 0.1, 0.1, 0, 0, 0, 0, 0, 0.3,
          1.0, 2.8, 5.0, 2.8, 1.2, 0.4, 0.1, 0.1, 0, 0.1, 0.1, 0, 0, 0, 0, 0]
r_mean = [0, 0, 0, 0.1, 0.5, 1.5, 3.8, 1.1, 1.3, 3.2, 0.6, 0.75, 1.0, 0.75, 1.0, 0.2,
          0.7, 1.1, 1.1, 1.3, 0.9, 0.6, 0.2, 0.1, 0.15, 0.2, 0.5, 0.4, 0.6, 0.4, 0.2, 0.5,
          0.9, 0.9, 0.6, 0.2, 0.5, 0.6, 0.4, 0.5, 1.0, 0.9, 0.3, 0.45, 0.6, 0.4, 0.2, 0.2,
          0.4, 0.2, 0.6, 0.4, 1.35, 1.25, 1.25, 0.9, 0.5, 1.0, 0.9, 0.8, 0.7, 0.45, 0.3, 0.4]

member_names = ["P%d" % k for k in range(1, 31)]
member_temp = [t_p1, t_p2, t_p3, t_p4, t_p5, t_p6, t_p7, t_p8, t_p9, t_p10,
               t_p11, t_p12, t_p13, t_p14, t_p15, t_p16, t_p17, t_p18, t_p19, t_p20,
               t_p21, t_p22, t_p23, t_p24, t_p25, t_p26, t_p27, t_p28, t_p29, t_p30]
member_rain = [r_p1, r_p2, r_p3, r_p4, r_p5, r_p6, r_p7, r_p8, r_p9, r_p10,
               r_p11, r_p12, r_p13, r_p14, r_p15, r_p16, r_p17, r_p18, r_p19, r_p20,
               r_p21, r_p22, r_p23, r_p24, r_p25, r_p26, r_p27, r_p28, r_p29, r_p30]
for s in member_temp + member_rain + [t_control, t_oper, t_mean, r_control, r_oper, r_mean]:
    assert len(s) == 64, len(s)

# 20-colour cycle (P21..P30 reuse P1..P10)
palette = ["#1e26c4", "#1c4cb4", "#1c6cb4", "#1c94c4", "#1ca2b2", "#1ca07e", "#1ca062", "#1ca046",
           "#1caa2c", "#1cb41c", "#b4b414", "#b4a214", "#b48c14", "#b47a14", "#b46814", "#b45814",
           "#b44814", "#b43a16", "#a02a1c", "#8c1c1c"]
member_colors = palette + palette[:10]
CONTROL = "#0000ff"
OPER = "#00dc00"
MEAN = "#ffffff"

fig = go.Figure()

# temperature
for name, col, t in zip(member_names, member_colors, member_temp):
    fig.add_trace(go.Scatter(x=times, y=t, mode="lines", name=name,
                             line=dict(color=col, width=1), showlegend=False))
fig.add_trace(go.Scatter(x=times, y=t_control, mode="lines", name="Control",
                         line=dict(color=CONTROL, width=3), showlegend=False))
fig.add_trace(go.Scatter(x=times, y=t_oper, mode="lines", name="Oper",
                         line=dict(color=OPER, width=3), showlegend=False))
fig.add_trace(go.Scatter(x=times, y=t_mean, mode="lines", name="Ens. mean",
                         line=dict(color=MEAN, width=3.5), showlegend=False))

# precipitation on the right axis
for name, col, r in zip(member_names, member_colors, member_rain):
    fig.add_trace(go.Scatter(x=times, y=r, mode="lines", name=name, yaxis="y2",
                             line=dict(color=col, width=1), showlegend=False))
fig.add_trace(go.Scatter(x=times, y=r_control, mode="lines", name="Control", yaxis="y2",
                         line=dict(color=CONTROL, width=3), showlegend=False))
fig.add_trace(go.Scatter(x=times, y=r_oper, mode="lines", name="Oper", yaxis="y2",
                         line=dict(color=OPER, width=3), showlegend=False))
fig.add_trace(go.Scatter(x=times, y=r_mean, mode="lines", name="Ens. mean", yaxis="y2",
                         line=dict(color=MEAN, width=3.5), showlegend=False))

# ── layout helpers ───────────────────────────────────────────────────────────
# the page puts the figure 8px in from the top-left, so the figure is 8px
# smaller and every position is given in window pixels minus that offset
SH = 8
W, H = 850 - SH, 620 - SH
L, R, T, B = 163 - SH, 810 - SH, 29 - SH, 560 - SH
px = lambda x: (x - SH - L) / (R - L)
py = lambda y: (B - (y - SH)) / (B - T)

FONT = "DejaVu Sans"
GRID = "#4a4a4a"
DASH = "4px,3px"
FRAME = "#e6e6e6"

annotations = []
shapes = []

# hand-drawn two-column legend like the original
col1 = [(n, c) for n, c in zip(member_names[0::2], member_colors[0::2])] + [("Control", CONTROL), ("Oper", OPER)]
col2 = [(n, c) for n, c in zip(member_names[1::2], member_colors[1::2])] + [("Ens. mean", MEAN)]
for xs, xt, entries in [((9, 16), 17, col1), ((58, 66), 67, col2)]:
    for k, (n, c) in enumerate(entries):
        yy = 40 + 15 * k
        shapes.append(dict(type="line", xref="paper", yref="paper",
                           x0=px(xs[0]), x1=px(xs[1]), y0=py(yy), y1=py(yy),
                           line=dict(color=c, width=2)))
        annotations.append(dict(text=n, xref="paper", yref="paper", x=px(xt), y=py(yy),
                                xanchor="left", yanchor="middle", showarrow=False,
                                font=dict(family=FONT, size=10, color="white")))

annotations += [
    dict(text="2m Temp. (°C)", xref="paper", yref="paper", x=px(132), y=py(295),
         textangle=-90, showarrow=False, xanchor="center", yanchor="middle",
         font=dict(family=FONT, size=10, color="white")),
    dict(text="Neerslag (mm)", xref="paper", yref="paper", x=px(840), y=py(293),
         textangle=-90, showarrow=False, xanchor="center", yanchor="middle",
         font=dict(family=FONT, size=10, color="white")),
    dict(text="Date (UTC)", xref="paper", yref="paper", x=px(486), y=py(589),
         showarrow=False, xanchor="center", yanchor="middle",
         font=dict(family=FONT, size=10, color="white")),
    dict(text="GFS Ensemble, 52N, 5E", xref="paper", yref="paper", x=px(119), y=py(599),
         showarrow=False, xanchor="left", yanchor="middle",
         font=dict(family=FONT, size=16, color="white")),
    dict(text="Wetterzentrale.de", xref="paper", yref="paper", x=px(794), y=py(599),
         showarrow=False, xanchor="right", yanchor="middle",
         font=dict(family=FONT, size=16, color="white")),
]

fig.update_layout(
    width=W, height=H,
    margin=dict(l=L, r=W - R, t=T, b=H - B, pad=0),
    paper_bgcolor="black", plot_bgcolor="black",
    font=dict(family=FONT, size=10, color="white"),
    showlegend=False,
    title=dict(text="<b>De Bilt\u00a0\u00a0(NL)\u00a0\u00a02m Temp. &amp; Neerslag | Wed, 26Aug2026 06Z</b>",
               xref="container", yref="container", x=(436 - SH) / W, y=1 - (17 - SH) / H,
               xanchor="center", yanchor="middle",
               font=dict(family=FONT, size=16, color="white")),
    xaxis=dict(range=["2026-08-26 00:00", "2026-09-11 06:00"],
               tickmode="array", tickvals=tick_dates, ticktext=tick_labels,
               ticks="", ticklabelstandoff=4, tickfont=dict(size=10, color="white"),
               showgrid=True, gridcolor=GRID, griddash=DASH, gridwidth=1,
               minor=dict(tickmode="linear", tick0="2026-08-26", dtick=86400000,
                          showgrid=True, gridcolor=GRID, griddash=DASH, gridwidth=1),
               showline=True, linecolor=FRAME, linewidth=1, mirror=True, zeroline=False),
    yaxis=dict(range=[-10, 45], tickmode="linear", tick0=-10, dtick=5,
               ticks="inside", ticklen=4, tickcolor=FRAME, ticklabelstandoff=8,
               tickfont=dict(size=10, color="white"),
               showgrid=True, gridcolor=GRID, griddash=DASH, gridwidth=1,
               zeroline=True, zerolinecolor="white", zerolinewidth=1.5,
               showline=True, linecolor=FRAME, linewidth=1, mirror=True),
    yaxis2=dict(range=[0, 40], overlaying="y", side="right",
                tickmode="linear", tick0=0, dtick=10,
                ticks="inside", ticklen=6, tickcolor=FRAME, ticklabelstandoff=6,
                tickfont=dict(size=10, color="white"),
                minor=dict(dtick=1, ticks="inside", ticklen=3, tickcolor=FRAME),
                showgrid=False, zeroline=False, showline=False),
    annotations=annotations,
    shapes=shapes,
)

fig.write_html("out.html")
